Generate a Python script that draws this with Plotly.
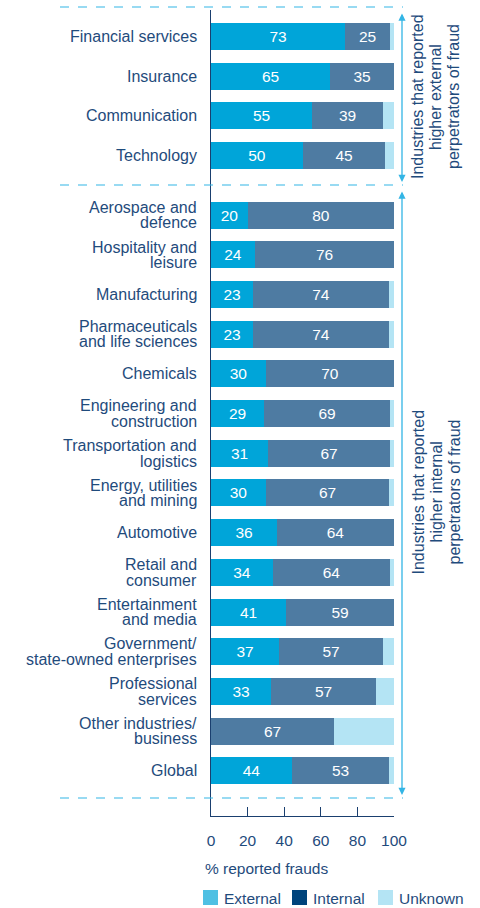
import plotly.graph_objects as go

categories = [
    "Financial services", "Insurance", "Communication", "Technology",
    "Aerospace and<br>defence", "Hospitality and<br>leisure", "Manufacturing",
    "Pharmaceuticals<br>and life sciences", "Chemicals",
    "Engineering and<br>construction", "Transportation and<br>logistics",
    "Energy, utilities<br>and mining", "Automotive", "Retail and<br>consumer",
    "Entertainment<br>and media", "Government/<br>state-owned enterprises",
    "Professional<br>services", "Other industries/<br>business", "Global",
]
group = ["external"] * 4 + ["internal"] * 15
external = [73, 65, 55, 50, 20, 24, 23, 23, 30, 29, 31, 30, 36, 34, 41, 37, 33, 0, 44]
internal = [25, 35, 39, 45, 80, 76, 74, 74, 70, 69, 67, 67, 64, 64, 59, 57, 57, 67, 53]
unknown = [2, 0, 6, 5, 0, 0, 3, 3, 0, 2, 2, 3, 0, 2, 0, 6, 10, 33, 3]
x_ticks = [0, 20, 40, 60, 80, 100]
group_notes = {
    "external": "Industries that reported<br>higher external<br>perpetrators of fraud",
    "internal": "Industries that reported<br>higher internal<br>perpetrators of fraud",
}
legend_names = ["External", "Internal", "Unknown"]

W, H = 480, 908
ML, MR, MT, MB = 211, 86, 10, 92
PW, PH = W - ML - MR, H - MT - MB

def px2x(px):
    return (px - ML) / PW

def py2y(py):
    return 1 - (py - MT) / PH

FONT = "Liberation Sans, Arial, Helvetica, sans-serif"
TXT = "#1f4b7c"
AX = "#1a3f6f"
C_EXT, C_INT, C_UNK = "#00a5d9", "#4e7ba2", "#b4e4f4"
LEG_COLORS = ["#4fc0e3", "#00447c", "#b4e4f4"]
ACCENT = "#33b5e5"

# numeric positions: half-category gap between the two groups
pos = []
for i, g in enumerate(group):
    pos.append(i + (0.5 if g == "internal" else 0.0))

fig = go.Figure()
for vals, col, show_text in [(external, C_EXT, True), (internal, C_INT, True), (unknown, C_UNK, False)]:
    fig.add_trace(go.Bar(
        x=vals, y=pos, orientation="h", width=0.68,
        marker=dict(color=col, line=dict(width=0)),
        text=[str(v) if (show_text and v > 0) else "" for v in vals],
        textposition="inside", insidetextanchor="middle", textangle=0,
        textfont=dict(color="white", size=15.5, family=FONT),
        showlegend=False, hoverinfo="skip",
    ))

annotations = []
# category labels, one annotation per line for tight line spacing
for p, lab in zip(pos, categories):
    lines = lab.split("<br>")
    n = len(lines)
    for k, ln in enumerate(lines):
        annotations.append(dict(
            text=ln, xref="paper", yref="y", x=px2x(199), y=p,
            xanchor="right", yanchor="middle", showarrow=False,
            yshift=((n - 1) / 2 - k) * 15.5,
            font=dict(size=16, color=TXT, family=FONT),
        ))

# group arrows and notes
seg_px = {"external": (12, 182), "internal": (190, 795)}
for g, (top, bot) in seg_px.items():
    annotations.append(dict(
        text="", xref="paper", yref="paper", x=px2x(402), y=py2y(bot),
        ax=0, ay=-(bot - top), axref="pixel", ayref="pixel",
        showarrow=True, arrowside="end+start", arrowhead=2, arrowsize=1.1,
        arrowwidth=1.3, arrowcolor=ACCENT,
    ))
    lines = group_notes[g].split("<br>")
    for k, ln in enumerate(lines):
        annotations.append(dict(
            text=ln, xref="paper", yref="paper", x=px2x(436), y=py2y((top + bot) / 2),
            xanchor="center", yanchor="middle", showarrow=False, textangle=-90,
            xshift=(k - 1) * 18,
            font=dict(size=16, color=TXT, family=FONT),
        ))

# axis title
annotations.append(dict(
    text="% reported frauds", xref="paper", yref="paper", x=px2x(203), y=py2y(868),
    xanchor="left", yanchor="middle", showarrow=False,
    font=dict(size=15.5, color=TXT, family=FONT),
))

shapes = []
# dashed separators
for py in [7, 185, 798]:
    shapes.append(dict(type="line", xref="paper", yref="paper",
                       x0=px2x(60), x1=px2x(403), y0=py2y(py), y1=py2y(py),
                       line=dict(color=ACCENT, width=1.2, dash="dash")))

# legend
leg_sq = [203, 292, 378]
for sx, name, col in zip(leg_sq, legend_names, LEG_COLORS):
    shapes.append(dict(type="rect", xref="paper", yref="paper",
                       x0=px2x(sx), x1=px2x(sx + 15), y0=py2y(890), y1=py2y(905),
                       fillcolor=col, line=dict(width=0)))
    annotations.append(dict(
        text=name, xref="paper", yref="paper", x=px2x(sx + 19), y=py2y(898),
        xanchor="left", yanchor="middle", showarrow=False,
        font=dict(size=15.5, color=TXT, family=FONT),
    ))

fig.update_layout(
    width=W, height=H, margin=dict(l=ML, r=MR, t=MT, b=MB),
    barmode="stack", bargap=0, paper_bgcolor="white", plot_bgcolor="white",
    font=dict(family=FONT, color=TXT, size=15.5),
    annotations=annotations, shapes=shapes, showlegend=False,
    xaxis=dict(range=[0, 100], tickvals=x_ticks, ticks="inside", ticklen=9,
               tickcolor=AX, tickwidth=1.2, showline=True, linecolor=AX, linewidth=1.2,
               showgrid=False, zeroline=False, ticklabelstandoff=10,
               tickfont=dict(size=15.5, color=TXT, family=FONT), fixedrange=True),
    yaxis=dict(range=[pos[-1] + 1.14, -0.67], showticklabels=False, ticks="",
               showline=True, linecolor=AX, linewidth=1.2, showgrid=False,
               zeroline=False, fixedrange=True),
)

fig.write_html("out.html", config={"displayModeBar": False})
